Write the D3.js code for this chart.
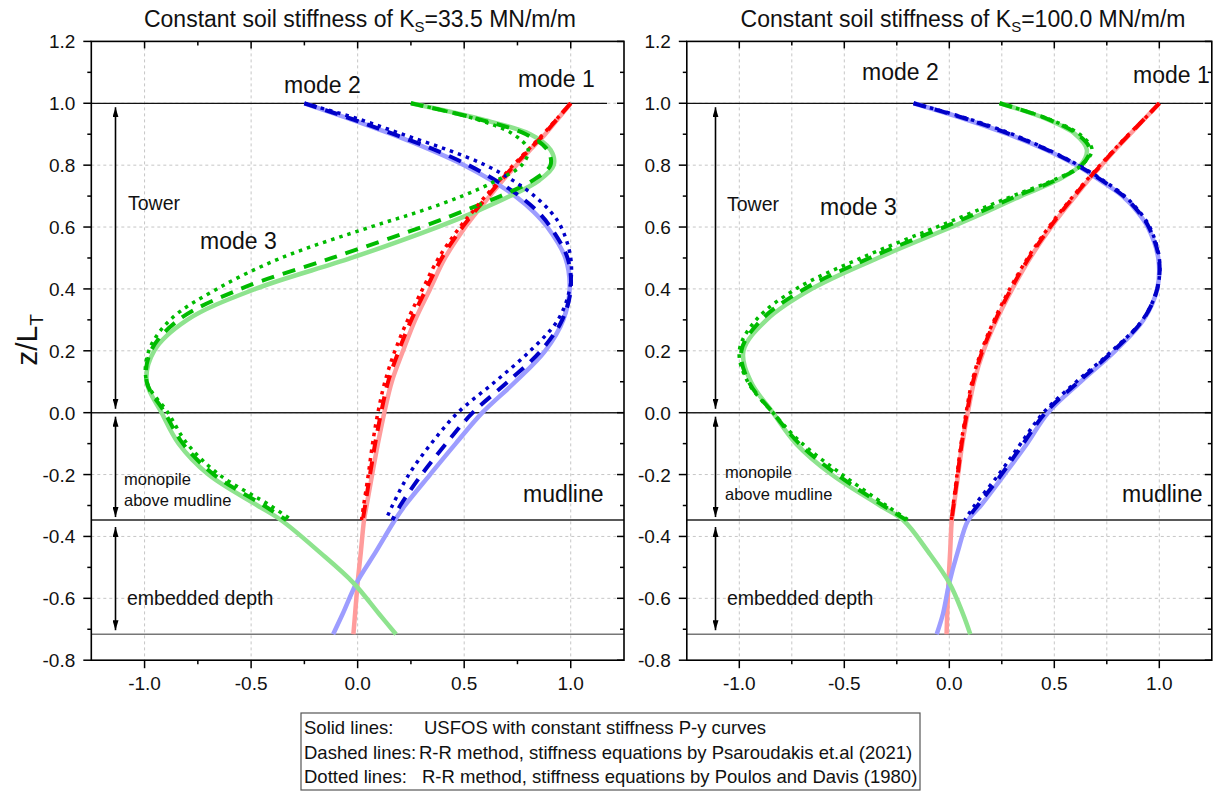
<!DOCTYPE html>
<html>
<head>
<meta charset="utf-8">
<script src="https://cdn.jsdelivr.net/npm/d3@7"></script>
<style>
body { margin: 0; background: #fff; }
svg { display: block; font-family: "Liberation Sans", Arial, sans-serif; }
</style>
</head>
<body>
<svg id="chart" width="1224" height="791"></svg>
<script>
// z/L_T levels: tower + monopile above mudline, then embedded part (solid lines only)
var zAbove = [1.0, 0.95, 0.9, 0.85, 0.8, 0.75, 0.7, 0.65, 0.6, 0.5, 0.4, 0.3, 0.2, 0.1, 0.0, -0.1, -0.2, -0.3, -0.347];
var zPile = [-0.45, -0.55, -0.65, -0.716];
var zSolid = zAbove.concat(zPile);

// Ks = 33.5 MN/m/m
var mode1SolidA  = [1.0, 0.94, 0.88, 0.81, 0.745, 0.68, 0.62, 0.56, 0.505, 0.41, 0.34, 0.27, 0.213, 0.16, 0.125, 0.095, 0.068, 0.042, 0.03, 0.015, 0.0, -0.012, -0.02];
var mode1DashedA = [1.0, 0.937, 0.875, 0.805, 0.737, 0.672, 0.61, 0.55, 0.492, 0.395, 0.322, 0.252, 0.193, 0.143, 0.11, 0.082, 0.058, 0.035, 0.024];
var mode1DottedA = [1.0, 0.935, 0.87, 0.80, 0.73, 0.665, 0.60, 0.54, 0.48, 0.38, 0.305, 0.235, 0.175, 0.128, 0.095, 0.07, 0.05, 0.028, 0.018];
var mode2SolidA  = [-0.25, -0.04, 0.16, 0.34, 0.50, 0.63, 0.74, 0.825, 0.89, 0.975, 0.995, 0.965, 0.88, 0.74, 0.585, 0.46, 0.34, 0.222, 0.175, 0.085, -0.005, -0.07, -0.115];
var mode2DashedA = [-0.25, -0.03, 0.17, 0.36, 0.52, 0.65, 0.76, 0.845, 0.905, 0.985, 1.0, 0.96, 0.86, 0.705, 0.54, 0.415, 0.30, 0.2, 0.163];
var mode2DottedA = [-0.25, 0.0, 0.21, 0.42, 0.60, 0.73, 0.83, 0.905, 0.955, 1.0, 0.995, 0.94, 0.81, 0.645, 0.47, 0.345, 0.24, 0.163, 0.132];
var mode3SolidA  = [0.25, 0.57, 0.81, 0.905, 0.92, 0.85, 0.715, 0.555, 0.375, -0.03, -0.48, -0.80, -0.955, -0.99, -0.92, -0.84, -0.70, -0.47, -0.36, -0.18, -0.02, 0.10, 0.18];
var mode3DashedA = [0.25, 0.56, 0.79, 0.89, 0.905, 0.82, 0.67, 0.49, 0.30, -0.12, -0.55, -0.84, -0.97, -0.99, -0.905, -0.82, -0.675, -0.44, -0.335];
var mode3DottedA = [0.25, 0.55, 0.73, 0.80, 0.77, 0.65, 0.49, 0.29, 0.06, -0.36, -0.66, -0.88, -0.98, -0.99, -0.89, -0.80, -0.65, -0.41, -0.31];

// Ks = 100.0 MN/m/m
var mode1SolidB  = [1.0, 0.93, 0.86, 0.79, 0.725, 0.66, 0.60, 0.54, 0.485, 0.385, 0.30, 0.225, 0.163, 0.118, 0.088, 0.062, 0.042, 0.022, 0.012, 0.004, -0.004, -0.01, -0.013];
var mode1DashedB = [1.0, 0.93, 0.858, 0.788, 0.722, 0.656, 0.595, 0.535, 0.48, 0.379, 0.294, 0.22, 0.158, 0.113, 0.084, 0.059, 0.04, 0.02, 0.011];
var mode1DottedB = [1.0, 0.93, 0.855, 0.785, 0.718, 0.652, 0.59, 0.53, 0.474, 0.373, 0.288, 0.214, 0.153, 0.108, 0.08, 0.056, 0.037, 0.018, 0.01];
var mode2SolidB  = [-0.17, 0.07, 0.28, 0.46, 0.605, 0.72, 0.825, 0.895, 0.945, 0.995, 0.99, 0.925, 0.79, 0.625, 0.47, 0.37, 0.262, 0.15, 0.09, 0.04, 0.0, -0.03, -0.06];
var mode2DashedB = [-0.17, 0.08, 0.29, 0.465, 0.61, 0.728, 0.83, 0.90, 0.95, 0.998, 0.99, 0.922, 0.782, 0.615, 0.458, 0.352, 0.248, 0.135, 0.08];
var mode2DottedB = [-0.17, 0.09, 0.30, 0.47, 0.615, 0.735, 0.835, 0.905, 0.955, 1.0, 0.99, 0.92, 0.775, 0.605, 0.448, 0.34, 0.235, 0.12, 0.074];
var mode3SolidB  = [0.24, 0.46, 0.60, 0.655, 0.625, 0.51, 0.34, 0.18, 0.01, -0.34, -0.655, -0.87, -0.98, -0.945, -0.84, -0.73, -0.56, -0.33, -0.22, -0.10, 0.0, 0.065, 0.10];
var mode3DashedB = [0.24, 0.465, 0.61, 0.67, 0.63, 0.50, 0.32, 0.15, -0.025, -0.38, -0.69, -0.895, -0.99, -0.955, -0.84, -0.715, -0.535, -0.315, -0.205];
var mode3DottedB = [0.24, 0.47, 0.62, 0.68, 0.63, 0.49, 0.30, 0.12, -0.06, -0.42, -0.73, -0.92, -1.0, -0.96, -0.84, -0.70, -0.51, -0.30, -0.195];

var yTicks = [-0.8, -0.6, -0.4, -0.2, 0.0, 0.2, 0.4, 0.6, 0.8, 1.0, 1.2];
var xTicks = [-1.0, -0.5, 0.0, 0.5, 1.0];
var levels = [0.0, -0.347, -0.716];   // tower base, mudline, pile toe

var svg = d3.select("#chart");
svg.append("rect").attr("width", 1224).attr("height", 791).attr("fill", "#fff");

svg.append("defs").append("marker")
    .attr("id", "head")
    .attr("viewBox", "0 0 10 6")
    .attr("refX", 10).attr("refY", 3)
    .attr("markerWidth", 10).attr("markerHeight", 6)
    .attr("markerUnits", "userSpaceOnUse")
    .attr("orient", "auto-start-reverse")
  .append("path")
    .attr("d", "M0,0L10,3L0,6Z")
    .attr("fill", "#000");

var y = d3.scaleLinear().domain([-0.8, 1.2]).range([660.2, 41.4]);

var solidCol = ["#ff9c9c", "#9d9dff", "#8ee38e"];
var darkCol = ["#ff0000", "#0000c8", "#00bb00"];

var panels = [
  {
    left: 91.3, right: 624, ks: "33.5", titleX: 360, gridStep: 0.5, topLineEnd: 607, arrowX: 115.5,
    solid: [mode1SolidA, mode2SolidA, mode3SolidA],
    dashed: [mode1DashedA, mode2DashedA, mode3DashedA],
    dotted: [mode1DottedA, mode2DottedA, mode3DottedA],
    labels: [
      {t: "mode 2", x: 284, y: 93, s: 23},
      {t: "mode 1", x: 518, y: 87, s: 23},
      {t: "Tower", x: 128, y: 210, s: 19.5},
      {t: "mode 3", x: 200, y: 249, s: 23},
      {t: "monopile", x: 124, y: 485, s: 16.5},
      {t: "above mudline", x: 124, y: 506, s: 16.5},
      {t: "mudline", x: 523, y: 502, s: 23},
      {t: "embedded depth", x: 127, y: 605, s: 19.5}
    ]
  },
  {
    left: 686.8, right: 1211.8, ks: "100.0", titleX: 963, gridStep: 0.25, topLineEnd: 1203, arrowX: 715.5,
    solid: [mode1SolidB, mode2SolidB, mode3SolidB],
    dashed: [mode1DashedB, mode2DashedB, mode3DashedB],
    dotted: [mode1DottedB, mode2DottedB, mode3DottedB],
    labels: [
      {t: "mode 2", x: 862, y: 80, s: 23},
      {t: "mode 1", x: 1133, y: 83, s: 23},
      {t: "Tower", x: 727, y: 211, s: 19.5},
      {t: "mode 3", x: 820, y: 215, s: 23},
      {t: "monopile", x: 725, y: 478, s: 16.5},
      {t: "above mudline", x: 725, y: 500, s: 16.5},
      {t: "mudline", x: 1122, y: 502, s: 23},
      {t: "embedded depth", x: 727, y: 605, s: 19.5}
    ]
  }
];

function fmt(d) { return d.toFixed(1); }

panels.forEach(function (p) {
  var x = d3.scaleLinear().domain([-1.25, 1.25]).range([p.left, p.right]);
  var g = svg.append("g");

  // grid
  d3.range(-1.0, 1.001, p.gridStep).forEach(function (v) {
    g.append("line").attr("x1", x(v)).attr("x2", x(v)).attr("y1", y(1.2)).attr("y2", y(-0.8))
      .attr("stroke", "#c6c6c6").attr("stroke-width", 1).attr("stroke-dasharray", "3,3");
  });
  yTicks.slice(1, -1).forEach(function (v) {
    g.append("line").attr("x1", x(-1.25)).attr("x2", x(1.25)).attr("y1", y(v)).attr("y2", y(v))
      .attr("stroke", "#c6c6c6").attr("stroke-width", 1).attr("stroke-dasharray", "3,3");
  });

  // reference levels
  g.append("line").attr("x1", x(-1.25)).attr("x2", p.topLineEnd).attr("y1", y(1.0)).attr("y2", y(1.0))
    .attr("stroke", "#111").attr("stroke-width", 1.3);
  levels.forEach(function (v, i) {
    g.append("line").attr("x1", x(-1.25)).attr("x2", x(1.25)).attr("y1", y(v)).attr("y2", y(v))
      .attr("stroke", i == 2 ? "#777" : "#222").attr("stroke-width", 1.4);
  });

  // curves
  var line = d3.line()
    .x(function (d) { return x(d[0]); })
    .y(function (d) { return y(d[1]); })
    .curve(d3.curveCatmullRom.alpha(0.5));

  p.solid.forEach(function (vals, i) {
    g.append("path").datum(vals.map(function (v, k) { return [v, zSolid[k]]; }))
      .attr("d", line).attr("fill", "none").attr("stroke", solidCol[i]).attr("stroke-width", 4.5);
  });
  p.dashed.forEach(function (vals, i) {
    g.append("path").datum(vals.map(function (v, k) { return [v, zAbove[k]]; }))
      .attr("d", line).attr("fill", "none").attr("stroke", darkCol[i]).attr("stroke-width", 4)
      .attr("stroke-dasharray", "13,9");
  });
  p.dotted.forEach(function (vals, i) {
    g.append("path").datum(vals.map(function (v, k) { return [v, zAbove[k]]; }))
      .attr("d", line).attr("fill", "none").attr("stroke", darkCol[i]).attr("stroke-width", 3.5)
      .attr("stroke-dasharray", "3.5,5");
  });

  // frame
  g.append("rect").attr("x", x(-1.25)).attr("y", y(1.2))
    .attr("width", x(1.25) - x(-1.25)).attr("height", y(-0.8) - y(1.2))
    .attr("fill", "none").attr("stroke", "#000").attr("stroke-width", 1.6);

  // left axis: outward ticks, right side: inward mirror ticks
  d3.range(-0.8, 1.201, 0.1).forEach(function (v, i) {
    var major = i % 2 == 0;
    g.append("line").attr("x1", x(-1.25)).attr("x2", x(-1.25) - (major ? 8 : 4))
      .attr("y1", y(v)).attr("y2", y(v)).attr("stroke", "#000").attr("stroke-width", 1.5);
    g.append("line").attr("x1", x(1.25)).attr("x2", x(1.25) - (major ? 7 : 4))
      .attr("y1", y(v)).attr("y2", y(v)).attr("stroke", "#000").attr("stroke-width", 1.5);
  });
  yTicks.forEach(function (v) {
    g.append("text").attr("x", x(-1.25) - 16).attr("y", y(v) + 7)
      .attr("text-anchor", "end").attr("font-size", 19).attr("fill", "#111").text(fmt(v));
  });

  // bottom axis outward ticks, top inward mirror ticks
  d3.range(-1.0, 1.001, 0.25).forEach(function (v, i) {
    var major = i % 2 == 0;
    g.append("line").attr("x1", x(v)).attr("x2", x(v)).attr("y1", y(-0.8)).attr("y2", y(-0.8) + (major ? 8 : 4))
      .attr("stroke", "#000").attr("stroke-width", 1.5);
    g.append("line").attr("x1", x(v)).attr("x2", x(v)).attr("y1", y(1.2)).attr("y2", y(1.2) + (major ? 7 : 4))
      .attr("stroke", "#000").attr("stroke-width", 1.5);
  });
  xTicks.forEach(function (v) {
    g.append("text").attr("x", x(v)).attr("y", 690)
      .attr("text-anchor", "middle").attr("font-size", 19).attr("fill", "#111").text(fmt(v));
  });

  // title
  var title = g.append("text").attr("x", p.titleX).attr("y", 27)
    .attr("text-anchor", "middle").attr("font-size", 23).attr("fill", "#111");
  title.append("tspan").text("Constant soil stiffness of K");
  title.append("tspan").attr("dy", 5).attr("font-size", 15).text("S");
  title.append("tspan").attr("dy", -5).text("=" + p.ks + " MN/m/m");

  // section arrows
  [[y(1.0) + 4, y(0.0) - 4], [y(0.0) + 4, y(-0.347) - 3], [y(-0.347) + 7, y(-0.716) - 4]].forEach(function (s) {
    g.append("line").attr("x1", p.arrowX).attr("x2", p.arrowX).attr("y1", s[0]).attr("y2", s[1])
      .attr("stroke", "#000").attr("stroke-width", 1.6)
      .attr("marker-start", "url(#head)").attr("marker-end", "url(#head)");
  });

  p.labels.forEach(function (l) {
    g.append("text").attr("x", l.x).attr("y", l.y).attr("font-size", l.s)
      .attr("fill", "#111").text(l.t);
  });
});

// y axis label
var yl = svg.append("text").attr("transform", "translate(37,340) rotate(-90)")
  .attr("text-anchor", "middle").attr("font-size", 30).attr("fill", "#111");
yl.append("tspan").text("z/L");
yl.append("tspan").attr("dy", 6).attr("font-size", 19).text("T");

// method legend
var legend = svg.append("g");
legend.append("rect").attr("x", 301).attr("y", 713).attr("width", 619).attr("height", 77)
  .attr("fill", "#fff").attr("stroke", "#555").attr("stroke-width", 1.2);
var legendRows = [
  ["Solid lines:", "USFOS with constant stiffness P-y curves", 424],
  ["Dashed lines:", "R-R method, stiffness equations by Psaroudakis et.al (2021)", 419],
  ["Dotted lines:", "R-R method, stiffness equations by Poulos and Davis (1980)", 422]
];
legendRows.forEach(function (r, i) {
  legend.append("text").attr("x", 304).attr("y", 734 + i * 24.5).attr("font-size", 18.5)
    .attr("fill", "#111").text(r[0]);
  legend.append("text").attr("x", r[2]).attr("y", 734 + i * 24.5).attr("font-size", 18.5)
    .attr("fill", "#111").text(r[1]);
});
</script>
</body>
</html>
